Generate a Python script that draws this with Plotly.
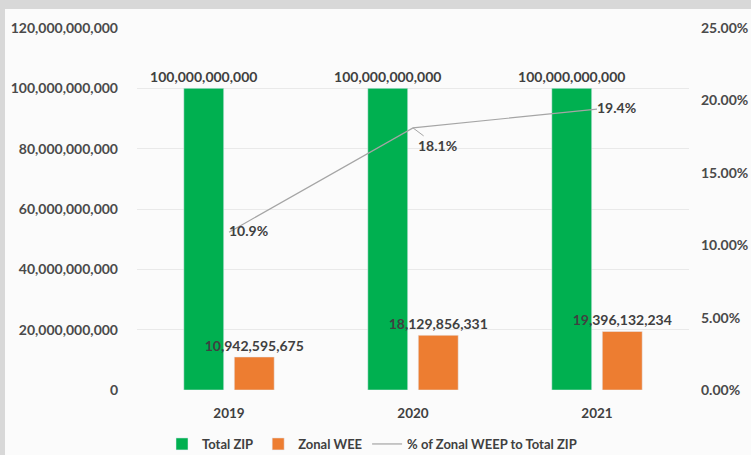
import plotly.graph_objects as go

years = ["2019", "2020", "2021"]
total_zip = [100_000_000_000, 100_000_000_000, 100_000_000_000]
zonal_wee = [10_942_595_675, 18_129_856_331, 19_396_132_234]
pct_zonal = [0.109, 0.181, 0.194]
pct_text_pos = ["middle right", "middle right", "middle right"]
pct_leader_idx = 1  # label drawn with a leader line in the reference

FONT = "Lato"
DARK = "#404040"
W, H = 751, 455
L, R, T, B = 137, 62, 28, 65
pw, ph = W - L - R, H - T - B

pct_labels = [f"{v:.1%}" for v in pct_zonal]
pct_inline = [("" if i == pct_leader_idx else t) for i, t in enumerate(pct_labels)]

fig = go.Figure()
fig.add_trace(go.Bar(
    x=years, y=total_zip, name="Total ZIP", marker_color="#00b050",
    texttemplate="%{y:,d}", textposition="outside", constraintext="none",
    cliponaxis=False, textfont=dict(family=FONT, size=14, color=DARK, weight="bold"),
))
fig.add_trace(go.Bar(
    x=years, y=zonal_wee, name="Zonal WEE", marker_color="#ed7d31",
    texttemplate="%{y:,d}", textposition="outside", constraintext="none",
    cliponaxis=False, textfont=dict(family=FONT, size=14, color=DARK, weight="bold"),
))
fig.add_trace(go.Scatter(
    x=years, y=pct_zonal, name="% of Zonal WEEP to Total ZIP", yaxis="y2",
    mode="lines+text", line=dict(color="#a5a5a5", width=1.2),
    text=pct_inline, textposition=pct_text_pos, cliponaxis=False,
    textfont=dict(family=FONT, size=14, color=DARK, weight="bold"),
))
# category axis: annotation x is the category's serial number
fig.add_annotation(
    x=pct_leader_idx, y=pct_zonal[pct_leader_idx], xref="x", yref="y2",
    text=pct_labels[pct_leader_idx], showarrow=True, arrowhead=0,
    arrowcolor="#a5a5a5", arrowwidth=1, ax=24, ay=18, xanchor="center",
    font=dict(family=FONT, size=14, color=DARK, weight="bold"),
)

# scanned-page background: gray edge band, near-white chart area
fig.add_shape(type="rect", xref="paper", yref="paper", layer="below",
              x0=(5 - L) / pw, x1=(W - L) / pw + 0.01,
              y0=(0 - B) / ph - 0.01, y1=(H - 9 - B) / ph,
              fillcolor="#fbfbfb", line_width=0)

fig.update_layout(
    width=W, height=H,
    margin=dict(l=L, r=R, t=T, b=B, autoexpand=False),
    paper_bgcolor="#d8d8d8", plot_bgcolor="#f4f4f4",
    barmode="group", bargap=0.451, bargroupgap=0.21,
    font=dict(family=FONT, size=13, color=DARK),
    showlegend=True,
    legend=dict(orientation="h", xref="container", yref="container",
                x=372 / W, y=11 / H, xanchor="center", yanchor="middle",
                font=dict(family=FONT, size=13, color=DARK, weight="bold"),
                bgcolor="rgba(0,0,0,0)", itemwidth=30, traceorder="normal"),
    xaxis=dict(type="category", showgrid=False, showline=False, zeroline=False,
               automargin=False,
               tickfont=dict(family=FONT, size=13.5, color=DARK, weight="bold"),
               ticklabelstandoff=13),
    yaxis=dict(range=[0, 120e9], dtick=20e9, tickformat=",d", automargin=False,
               showgrid=True, gridcolor="#e9e9e9", zeroline=False,
               tickfont=dict(family=FONT, size=14, color="#4a4a4a", weight="bold"),
               ticklabelstandoff=18),
    yaxis2=dict(range=[0, 0.25], dtick=0.05, tickformat=".2%", automargin=False,
                overlaying="y", side="right", showgrid=False, zeroline=False,
                tickfont=dict(family=FONT, size=14, color="#4a4a4a", weight="bold"),
                ticklabelstandoff=11),
)

fig.write_html(
    "out.html",
    config={"displayModeBar": False},
    post_script="document.body.style.margin='0';document.body.style.background='#d8d8d8';",
)
